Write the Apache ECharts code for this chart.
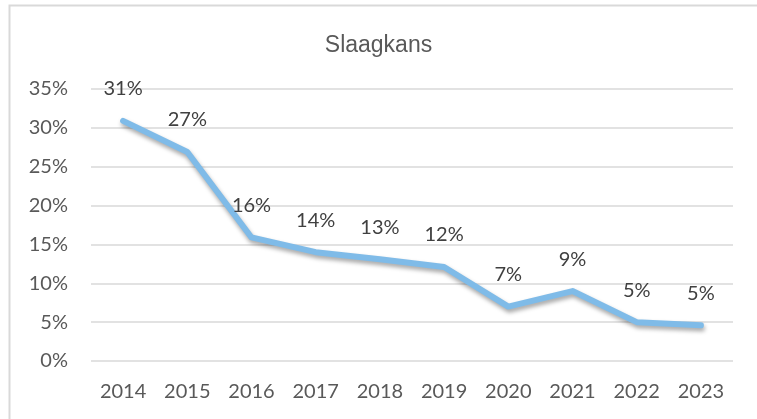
<!DOCTYPE html>
<html>
<head>
<meta charset="utf-8">
<script src="https://cdn.jsdelivr.net/npm/echarts@6/dist/echarts.min.js"></script>
<style>
html, body { margin: 0; padding: 0; background: #fff; }
#chart { width: 757px; height: 419px; }
</style>
</head>
<body>
<div id="chart"></div>
<script>
// Slaagkans per jaar
var years = ['2014', '2015', '2016', '2017', '2018', '2019', '2020', '2021', '2022', '2023'];
var kans = [0.309, 0.269, 0.159, 0.140, 0.131, 0.121, 0.070, 0.090, 0.050, 0.046];
var yTicks = [0, 0.05, 0.10, 0.15, 0.20, 0.25, 0.30, 0.35];

var chart = echarts.init(document.getElementById('chart'));

var option = {
	backgroundColor: '#fff',
	animation: false,
	title: {
		text: 'Slaagkans',
		left: 'center',
		top: 29,
		textStyle: {
			color: '#595959',
			fontFamily: 'Liberation Sans',
			fontSize: 23,
			fontWeight: 'normal'
		}
	},
	graphic: [{
		type: 'rect',
		shape: { x: 9.5, y: 5.5, width: 900, height: 600 },
		style: { fill: 'none', stroke: '#d9d9d9', lineWidth: 2 },
		silent: true
	}],
	grid: {
		left: 91,
		right: 24,
		top: 89,
		bottom: 58
	},
	xAxis: {
		type: 'category',
		data: years,
		axisLine: { show: false },
		axisTick: { show: false },
		axisLabel: {
			color: '#595959',
			fontFamily: 'Lato',
			fontSize: 20,
			margin: 21
		}
	},
	yAxis: {
		type: 'value',
		min: yTicks[0],
		max: yTicks[yTicks.length - 1],
		interval: 0.05,
		axisLine: { show: false },
		axisTick: { show: false },
		splitLine: { lineStyle: { color: '#d9d9d9', width: 1.5 } },
		axisLabel: {
			color: '#595959',
			fontFamily: 'Lato',
			fontSize: 20,
			margin: 23,
			formatter: function (v) {
				return Math.round(v * 100) + '%';
			}
		}
	},
	series: [{
		type: 'line',
		data: kans,
		symbol: 'circle',
		symbolSize: 4,
		itemStyle: { color: 'rgba(0,0,0,0)' },
		lineStyle: {
			color: '#7fbbe8',
			width: 6,
			cap: 'round',
			join: 'round',
			shadowColor: 'rgba(0,0,0,0.35)',
			shadowBlur: 4,
			shadowOffsetX: 1,
			shadowOffsetY: 3
		},
		label: {
			show: true,
			position: 'top',
			distance: 20,
			color: '#404040',
			fontFamily: 'Lato',
			fontSize: 20,
			formatter: function (p) {
				return Math.round(p.value * 100) + '%';
			}
		}
	}]
};

chart.setOption(option);
</script>
</body>
</html>
